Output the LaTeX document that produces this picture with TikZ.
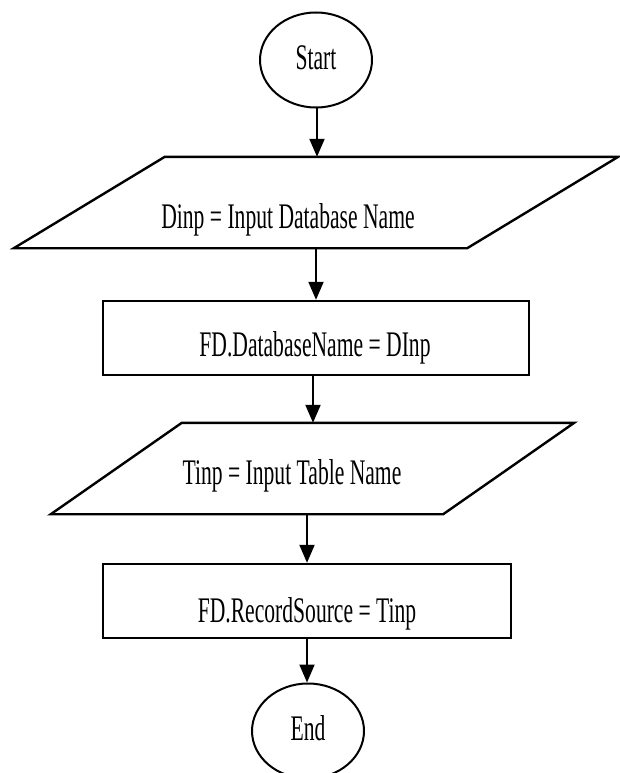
\documentclass[tikz,border=0pt]{standalone}
\usepackage{fontspec}
\setmainfont{Liberation Serif}
\usepackage{graphicx}
\usetikzlibrary{shapes.geometric,arrows.meta,calc}
\newcommand{\cond}[1]{\scalebox{0.6}[1]{#1}}
\begin{document}
\begin{tikzpicture}[x=1pt,y=-1pt,
  txt/.style={inner sep=0pt,anchor=base,font=\fontsize{36}{40}\selectfont},
  term/.style={draw,line width=2pt,ellipse,minimum width=112pt,minimum height=95pt,inner sep=0pt},
  procbox/.style={draw,line width=2.4pt,rectangle,minimum height=74pt,inner sep=0pt},
  iobox/.style={rectangle,minimum height=91pt,inner sep=0pt},
  shapeline/.style={line width=2.4pt,line join=miter},
  flow/.style={line width=2pt,-{Triangle[length=18pt,width=15pt]}}]
\useasboundingbox (0,0) rectangle (619,773);
% Start
\node[term] (start) at (316,60) {};
\node[txt] (startt) at (316,70) {\cond{Start}};
% Input 1
\node[iobox,minimum width=604pt] (p1) at (316,202.5) {};
\draw[shapeline] ($(p1.north west)+(151,0)$) -- (p1.north east) -- ($(p1.south east)+(-151,0)$) -- (p1.south west) -- cycle;
\node[txt] (p1t) at (288,228) {\cond{Dinp = Input Database Name}};
% Process 1
\node[procbox,minimum width=426pt] (r1) at (316,338) {};
\node[txt] (r1t) at (315,356) {\cond{FD.DatabaseName = DInp}};
% Input 2
\node[iobox,minimum width=523pt] (p2) at (312.5,468.5) {};
\draw[shapeline] ($(p2.north west)+(131,0)$) -- (p2.north east) -- ($(p2.south east)+(-131,0)$) -- (p2.south west) -- cycle;
\node[txt] (p2t) at (292,484) {\cond{Tinp = Input Table Name}};
% Process 2
\node[procbox,minimum width=408pt] (r2) at (307,601) {};
\node[txt] (r2t) at (307,622) {\cond{FD.RecordSource = Tinp}};
% End
\node[term] (end) at (308,731) {};
\node[txt] (endt) at (308,740) {\cond{End}};
% connectors
\coordinate (a1) at (317,0);
\draw[flow] (start.south -| a1) -- (p1.north -| a1);
\coordinate (a2) at (316,0);
\draw[flow] (p1.south -| a2) -- (r1.north -| a2);
\coordinate (a3) at (313,0);
\draw[flow] (r1.south -| a3) -- (p2.north -| a3);
\coordinate (a4) at (307,0);
\draw[flow] (p2.south -| a4) -- (r2.north -| a4);
\draw[flow] (r2.south -| a4) -- (end.north -| a4);
\end{tikzpicture}
\end{document}
